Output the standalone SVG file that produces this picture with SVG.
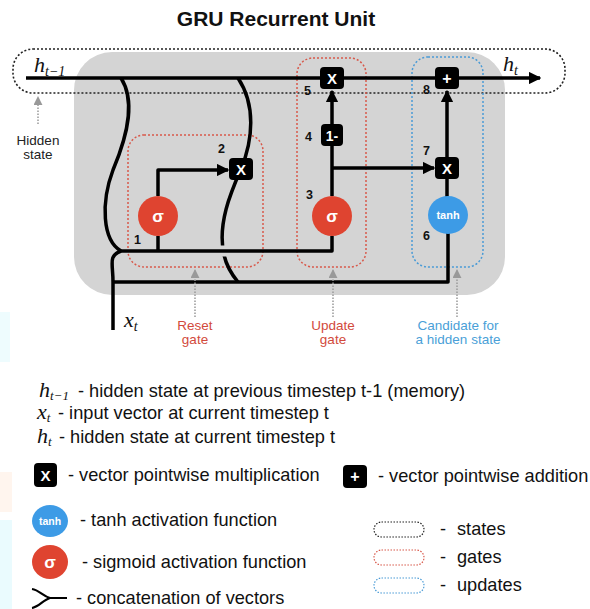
<svg xmlns="http://www.w3.org/2000/svg" width="590" height="609" viewBox="0 0 590 609">
<style>
.ln{fill:none;stroke:#000;stroke-width:3.5;stroke-linejoin:round}
.box{fill:#000}
.bt{font-family:"Liberation Sans",Arial,sans-serif;font-weight:bold;fill:#fff;text-anchor:middle}
.num{font-family:"Liberation Sans",Arial,sans-serif;font-weight:bold;font-size:12.5px;fill:#111}
.math{font-family:"Liberation Serif","Times New Roman",serif;font-style:italic;fill:#111}
.lg{font-family:"Liberation Sans",Arial,sans-serif;font-size:18.2px;fill:#111}
.lab{font-family:"Liberation Sans",Arial,sans-serif;font-size:13.5px;text-anchor:middle}
.sig{fill:#df4430}
.tanh{fill:#3d9be6}
.gdot{stroke:#999;stroke-width:1.5;stroke-dasharray:1.5 1.5;fill:none}
.pill{fill:none;stroke-width:1.2;stroke-dasharray:1.5 1.5}
</style>
<defs>
<marker id="ah" viewBox="0 0 10 10" refX="9" refY="5" markerWidth="3.6" markerHeight="3.6" markerUnits="strokeWidth" orient="auto"><path d="M0,0 L10,5 L0,10 z" fill="#000"/></marker>
<marker id="ga" viewBox="0 0 10 10" refX="9" refY="5" markerWidth="6" markerHeight="6" orient="auto"><path d="M0,0 L10,5 L0,10 z" fill="#999"/></marker>
</defs>
<rect width="590" height="609" fill="#fff"/>
<rect x="0" y="312" width="10" height="50" fill="#eefcfe"/>
<rect x="0" y="472" width="12" height="40" fill="#fff5ee"/>
<rect x="0" y="520" width="12" height="89" fill="#eafbfe"/>

<text x="276" y="26" font-family="Liberation Sans,Arial,sans-serif" font-weight="bold" font-size="21" text-anchor="middle" fill="#111">GRU Recurrent Unit</text>

<g id="cell">
<rect x="74" y="52" width="431" height="243" rx="38" fill="#d4d4d4"/>
</g>
<g id="states">
<rect x="13" y="49" width="552" height="44" rx="20" fill="none" stroke="#222" stroke-width="1.6" stroke-dasharray="2 2"/>
</g>
<g id="reset-gate">
<rect x="128" y="135" width="135" height="132" rx="16" fill="none" stroke="#d8584a" stroke-width="1.5" stroke-dasharray="2 2"/>
</g>
<g id="update-gate">
<rect x="297" y="58" width="69" height="209" rx="16" fill="none" stroke="#d8584a" stroke-width="1.5" stroke-dasharray="2 2"/>
</g>
<g id="candidate">
<rect x="412" y="57" width="71" height="210" rx="16" fill="none" stroke="#4a9bd6" stroke-width="1.5" stroke-dasharray="2 2"/>
</g>

<g id="connectors">
<path class="ln" d="M26,78 L540,78" marker-end="url(#ah)"/>
<path class="ln" d="M121,78 C135,100 129,132 113,170 C101,202 102,240 121,251"/>
<path class="ln" d="M113,330 L113,282 C113,263 108,256 121,251"/>
<path class="ln" d="M238,78 C256,105 253,140 241,169 C231,192 217,224 224,255 C227,268 233,276 238,282"/>
<path d="M214,251 L234,251" stroke="#d4d4d4" stroke-width="11"/>
<path class="ln" d="M119,251 L332,251 L332,236"/>
<path class="ln" d="M113,282 L448,282 L448,233"/>
<path class="ln" d="M158,251 L158,236"/>
<path class="ln" d="M158,196 L158,170 L228,170" marker-end="url(#ah)"/>
<path class="ln" d="M332,196 L332,91" marker-end="url(#ah)"/>
<path class="ln" d="M332,168 L434,168" marker-end="url(#ah)"/>
<path class="ln" d="M447,157 L447,91" marker-end="url(#ah)"/>
<path class="ln" d="M447,179 L447,197"/>
<path class="gdot" d="M38,124 L38,97" marker-end="url(#ga)"/>
<path class="gdot" d="M195,317 L195,270" marker-end="url(#ga)"/>
<path class="gdot" d="M333,317 L333,270" marker-end="url(#ga)"/>
<path class="gdot" d="M457,317 L457,270" marker-end="url(#ga)"/>
</g>

<g id="n5"><rect class="box" x="320" y="67" width="24" height="22" rx="4"/><text class="bt" x="332" y="84" font-size="15">X</text><text class="num" x="304" y="95">5</text></g>
<g id="n4"><rect class="box" x="321" y="124" width="22" height="22" rx="4"/><text class="bt" x="332" y="141" font-size="14">1-</text><text class="num" x="305" y="141">4</text></g>
<g id="n8"><rect class="box" x="435" y="67" width="24" height="22" rx="4"/><text class="bt" x="447" y="84" font-size="16">+</text><text class="num" x="423" y="94">8</text></g>
<g id="n7"><rect class="box" x="435" y="157" width="24" height="22" rx="4"/><text class="bt" x="447" y="174" font-size="15">X</text><text class="num" x="423" y="155">7</text></g>
<g id="n2"><rect class="box" x="229" y="158" width="24" height="22" rx="4"/><text class="bt" x="241" y="175" font-size="15">X</text><text class="num" x="218" y="153">2</text></g>
<g id="n1"><circle class="sig" cx="158" cy="216" r="20"/><text class="bt" x="158" y="222" font-size="17" font-weight="normal">σ</text><text class="num" x="134" y="244">1</text></g>
<g id="n3"><circle class="sig" cx="332" cy="216" r="20"/><text class="bt" x="332" y="222" font-size="17" font-weight="normal">σ</text><text class="num" x="306" y="199">3</text></g>
<g id="n6"><ellipse class="tanh" cx="448" cy="215" rx="20" ry="19"/><text class="bt" x="448" y="219" font-size="11" font-weight="normal">tanh</text><text class="num" x="423" y="240">6</text></g>

<g id="labels">
<text class="math" x="34" y="72" font-size="22">h<tspan font-size="14" dy="4">t−1</tspan></text>
<text class="math" x="503" y="71" font-size="22">h<tspan font-size="14" dy="4">t</tspan></text>
<text class="math" x="124" y="327" font-size="22">x<tspan font-size="14" dy="4">t</tspan></text>
<text class="lab" x="38" y="145" fill="#222" font-size="12.5">Hidden</text>
<text class="lab" x="38" y="159" fill="#222" font-size="12.5">state</text>
<text class="lab" x="195" y="330" fill="#d24a3c">Reset</text>
<text class="lab" x="195" y="344" fill="#d24a3c">gate</text>
<text class="lab" x="333" y="330" fill="#d24a3c">Update</text>
<text class="lab" x="333" y="344" fill="#d24a3c">gate</text>
<text class="lab" x="458" y="330" fill="#4a9fd8">Candidate for</text>
<text class="lab" x="458" y="344" fill="#4a9fd8">a hidden state</text>
</g>

<g id="legend">
<text class="math" x="39" y="397" font-size="22">h<tspan font-size="13" dy="3">t−1</tspan></text>
<text class="lg" x="78" y="397">- hidden state at previous timestep t-1 (memory)</text>
<text class="math" x="37" y="419" font-size="22">x<tspan font-size="13" dy="3">t</tspan></text>
<text class="lg" x="58" y="419">- input vector at current timestep t</text>
<text class="math" x="37" y="443" font-size="22">h<tspan font-size="13" dy="3">t</tspan></text>
<text class="lg" x="59" y="443">- hidden state at current timestep t</text>

<rect class="box" x="34" y="463" width="23" height="24" rx="4"/><text class="bt" x="45.5" y="481" font-size="15">X</text>
<text class="lg" x="68" y="481">- vector pointwise multiplication</text>
<rect class="box" x="343" y="465" width="24" height="23" rx="4"/><text class="bt" x="355" y="482" font-size="16">+</text>
<text class="lg" x="378" y="482">- vector pointwise addition</text>

<ellipse class="tanh" cx="50" cy="521" rx="18" ry="16"/><text class="bt" x="50" y="525" font-size="10.5" font-weight="normal">tanh</text>
<text class="lg" x="80" y="526">- tanh activation function</text>
<ellipse class="sig" cx="50" cy="562" rx="18" ry="17"/><text class="bt" x="50" y="568" font-size="17" font-weight="normal">σ</text>
<text class="lg" x="82" y="568">- sigmoid activation function</text>
<path d="M32,589 C39,590 43,596 50,598 M32,608 C39,607 43,600 50,598 L67,598" fill="none" stroke="#000" stroke-width="2.2"/>
<text class="lg" x="76" y="604">- concatenation of vectors</text>

<rect class="pill" x="374" y="522" width="50" height="15" rx="7.5" stroke="#222"/>
<text class="lg" x="440" y="535">-</text><text class="lg" x="457" y="535">states</text>
<rect class="pill" x="374" y="550" width="50" height="15" rx="7.5" stroke="#d8584a"/>
<text class="lg" x="440" y="563">-</text><text class="lg" x="457" y="563">gates</text>
<rect class="pill" x="374" y="578" width="50" height="15" rx="7.5" stroke="#4a9bd6"/>
<text class="lg" x="440" y="591">-</text><text class="lg" x="457" y="591">updates</text>
</g>
</svg>
